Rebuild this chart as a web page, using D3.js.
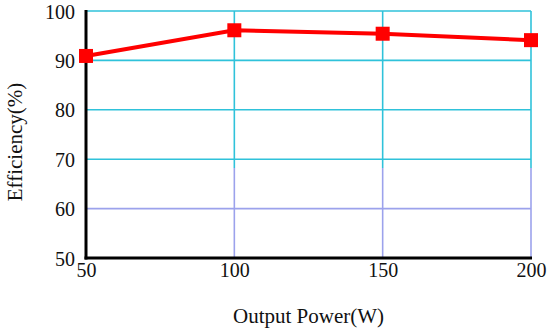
<!DOCTYPE html>
<html>
<head>
<meta charset="utf-8">
<script src="https://cdn.jsdelivr.net/npm/d3@7"></script>
<style>
  body { margin: 0; background: #fff; }
  svg text { font-family: "Liberation Serif", "DejaVu Serif", serif; fill: #111; }
</style>
</head>
<body>
<div id="chart"></div>
<script>
// Dados
const powers = [50, 100, 150, 200];
const efficiency = [90.9, 96.1, 95.4, 94.1];
const xTicks = [50, 100, 150, 200];
const yTicks = [50, 60, 70, 80, 90, 100];

const W = 550, H = 334;
const margin = { top: 11, right: 19, bottom: 76, left: 86 };
const width = W - margin.left - margin.right;
const height = H - margin.top - margin.bottom;
const serif = "Liberation Serif, DejaVu Serif, serif";

const svg = d3.select("#chart").append("svg")
  .attr("width", W).attr("height", H);

const x = d3.scaleLinear().domain([50, 200]).range([0, width]);
const y = d3.scaleLinear().domain([50, 100]).range([height, 0]);

const g = svg.append("g").attr("transform", `translate(${margin.left},${margin.top})`);

// gradiente das linhas de grade (ciano em cima, lilás embaixo)
const cut = y(68.3) / height;
const grad = svg.append("defs").append("linearGradient")
  .attr("id", "gridGrad")
  .attr("gradientUnits", "userSpaceOnUse")
  .attr("x1", 0).attr("y1", 0).attr("x2", 0).attr("y2", height);
grad.append("stop").attr("offset", 0).attr("stop-color", "#2fc2da");
grad.append("stop").attr("offset", cut).attr("stop-color", "#2fc2da");
grad.append("stop").attr("offset", cut).attr("stop-color", "#9ca2ec");
grad.append("stop").attr("offset", 1).attr("stop-color", "#9ca2ec");

// grade (desenhada direto no sistema do g para o gradiente funcionar)
const grid = g.append("g").attr("stroke", "url(#gridGrad)").attr("stroke-width", 1.6);
grid.selectAll(".hgrid")
  .data(yTicks.filter(d => d > 50))
  .enter()
  .append("line")
  .attr("class", "hgrid")
  .attr("x1", 0).attr("x2", width)
  .attr("y1", d => y(d)).attr("y2", d => y(d))
  .attr("stroke", d => d >= 70 ? "#2fc2da" : "#9ca2ec");
grid.selectAll(".vgrid")
  .data(xTicks.filter(d => d > 50))
  .enter()
  .append("line")
  .attr("class", "vgrid")
  .attr("x1", d => x(d)).attr("x2", d => x(d))
  .attr("y1", 0).attr("y2", height);

// eixos pretos
g.append("line").attr("x1", 0).attr("x2", 0).attr("y1", -1).attr("y2", height + 1.5)
  .attr("stroke", "#000").attr("stroke-width", 3);
g.append("line").attr("x1", -1.5).attr("x2", width + 1).attr("y1", height).attr("y2", height)
  .attr("stroke", "#000").attr("stroke-width", 3);

// rótulos do eixo Y
g.append("g")
  .call(d3.axisLeft(y).tickValues(yTicks).tickSize(0).tickPadding(11))
  .call(s => s.select(".domain").remove())
  .attr("font-family", serif)
  .selectAll("text")
  .attr("font-size", "20px")
  .attr("dy", "0.35em");

// rótulos do eixo X
g.append("g")
  .attr("transform", `translate(0,${height})`)
  .call(d3.axisBottom(x).tickValues(xTicks).tickSize(0).tickPadding(5))
  .call(s => s.select(".domain").remove())
  .attr("font-family", serif)
  .selectAll("text")
  .attr("font-size", "20px");

g.selectAll(".tick text").attr("fill", "#111");

// linha
const data = powers.map((p, i) => ({ p, e: efficiency[i] }));
g.append("path")
  .datum(data)
  .attr("fill", "none")
  .attr("stroke", "#ff0000")
  .attr("stroke-width", 4)
  .attr("d", d3.line().x(d => x(d.p)).y(d => y(d.e)));

// marcadores quadrados
const ms = 14;
g.selectAll(".marker")
  .data(data)
  .enter()
  .append("rect")
  .attr("class", "marker")
  .attr("x", d => x(d.p) - ms / 2)
  .attr("y", d => y(d.e) - ms / 2)
  .attr("width", ms)
  .attr("height", ms)
  .attr("fill", "#ff0000");

// títulos dos eixos
svg.append("text")
  .attr("x", margin.left + width / 2)
  .attr("y", 323)
  .attr("text-anchor", "middle")
  .attr("font-size", "21px")
  .text("Output Power(W)");

svg.append("text")
  .attr("transform", `translate(22,142) rotate(-90)`)
  .attr("text-anchor", "middle")
  .attr("font-size", "21px")
  .text("Efficiency(%)");
</script>
</body>
</html>
